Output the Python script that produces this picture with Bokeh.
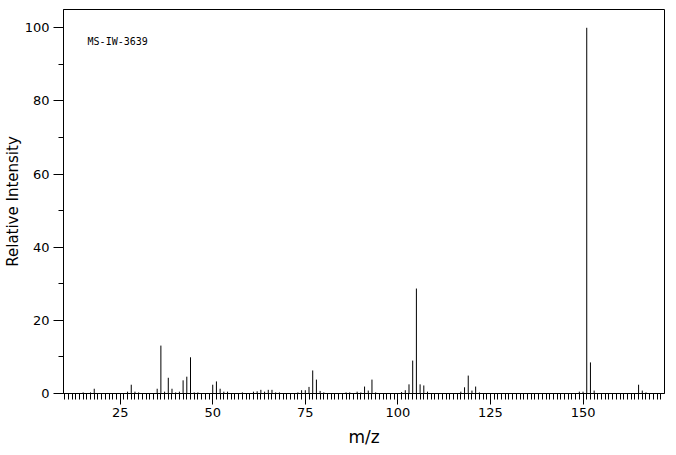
from bokeh.plotting import figure
from bokeh.models import Range1d, FixedTicker, LinearAxis, Label
from bokeh.embed import file_html
from bokeh.resources import INLINE

mz = [15, 17, 18, 27, 28, 29, 30, 35, 36, 37, 38, 39, 40, 41, 42, 43, 44, 45, 46,
      50, 51, 52, 53, 54, 58, 61, 62, 63, 64, 65, 66, 67, 68, 73, 74, 75, 76, 77,
      78, 79, 80, 86, 87, 89, 90, 91, 92, 93, 94, 101, 102, 103, 104, 105, 106,
      107, 108, 117, 118, 119, 120, 121, 122, 149, 150, 151, 152, 153, 165, 166, 167]
intensity = [0.3, 0.3, 1.3, 0.5, 2.4, 0.5, 0.3, 1.3, 13.1, 0.5, 4.3, 1.3, 0.3, 0.5,
             3.6, 4.6, 9.9, 0.3, 0.3, 2.4, 3.3, 1.3, 0.5, 0.5, 0.3, 0.5, 0.6, 1.0,
             0.5, 1.0, 1.0, 0.3, 0.3, 0.3, 0.9, 0.9, 1.8, 6.3, 3.8, 0.7, 0.3, 0.3,
             0.3, 0.5, 0.3, 1.9, 0.8, 3.8, 0.3, 0.4, 0.9, 2.5, 9.0, 28.7, 2.5, 2.2,
             0.5, 0.5, 1.7, 4.9, 0.8, 1.9, 0.3, 0.5, 0.5, 100.0, 8.5, 0.8, 2.4, 0.8, 0.3]

x_major = [25, 50, 75, 100, 125, 150]
x_mid = [10, 15, 20, 30, 35, 40, 45, 55, 60, 65, 70, 80, 85, 90, 95, 105, 110,
         115, 120, 130, 135, 140, 145, 155, 160, 165, 170]
x_minor = list(range(10, 172))
y_major = [0, 20, 40, 60, 80, 100]
y_minor = [10, 30, 50, 70, 90]

FONT = "DejaVu Sans"

p = figure(width=676, height=455, output_backend="svg", toolbar_location=None,
           x_range=Range1d(9.7, 172.0), y_range=Range1d(0, 105),
           x_axis_label="m/z", y_axis_label="Relative Intensity",
           min_border_left=63, min_border_right=12, min_border_top=9,
           min_border_bottom=62)
p.grid.visible = False
p.outline_line_color = "black"
p.outline_line_width = 1
p.background_fill_color = "white"
p.border_fill_color = "white"

xa = p.xaxis[0]
xa.ticker = FixedTicker(ticks=x_major, minor_ticks=x_minor)
xa.major_tick_out = 11
xa.major_tick_in = 0
xa.minor_tick_out = 6
xa.minor_tick_in = 0
xa.major_label_standoff = 3
xa.axis_label_standoff = 7
xa.axis_line_color = "black"
xa.major_tick_line_color = "black"
xa.minor_tick_line_color = "black"
xa.major_label_text_font = FONT
xa.major_label_text_font_size = "13px"
xa.major_label_text_color = "black"
xa.axis_label_text_font = FONT
xa.axis_label_text_font_size = "17px"
xa.axis_label_text_font_style = "normal"
xa.axis_label_text_color = "black"

ya = p.yaxis[0]
ya.ticker = FixedTicker(ticks=y_major, minor_ticks=y_minor)
ya.major_tick_out = 10
ya.major_tick_in = 0
ya.minor_tick_out = 5
ya.minor_tick_in = 0
ya.major_label_standoff = 4
ya.axis_label_standoff = 0
ya.axis_line_color = "black"
ya.major_label_text_font = FONT
ya.major_label_text_font_size = "13px"
ya.major_label_text_color = "black"
ya.axis_label_text_font = FONT
ya.axis_label_text_font_size = "15px"
ya.axis_label_text_font_style = "normal"
ya.axis_label_text_color = "black"

mid = LinearAxis(ticker=FixedTicker(ticks=x_mid, minor_ticks=[]), fixed_location=0,
                 major_tick_out=9, major_tick_in=0, minor_tick_out=0,
                 axis_line_color=None, major_label_text_color=None,
                 major_label_text_font_size="1px")
p.add_layout(mid, "below")

p.segment(x0=mz, y0=[0] * len(mz), x1=mz, y1=intensity, line_color="black", line_width=1)

p.add_layout(Label(x=16.2, y=96.2, text="MS-IW-3639", text_font="DejaVu Sans Mono",
                   text_font_size="10px", text_baseline="middle", text_align="left",
                   text_color="black"))

open("out.html", "w").write(file_html(p, INLINE))
